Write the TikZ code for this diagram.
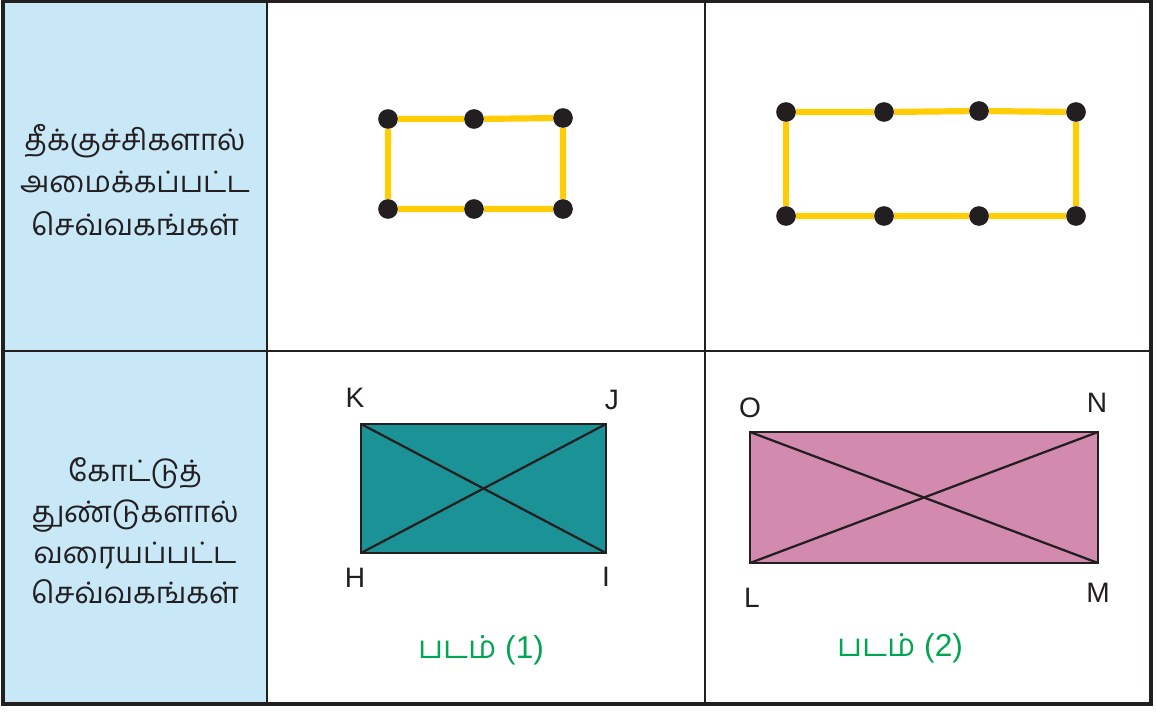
\documentclass[tikz,border=0pt]{standalone}
\usepackage{fontspec}
\setmainfont{Liberation Sans}
\newfontfamily\tamilfont[Script=Tamil]{Hind Madurai}
\usetikzlibrary{positioning}
\definecolor{inkDark}{HTML}{231F20}
\definecolor{cellBlue}{HTML}{C8E8F8}
\definecolor{stickYellow}{HTML}{FFCC05}
\definecolor{tealFill}{HTML}{1B9396}
\definecolor{pinkFill}{HTML}{D28BAE}
\definecolor{captionGreen}{HTML}{00A651}
\tikzset{
    headcell/.style={align=center,text=inkDark,
        font=\tamilfont\fontsize{21}{30}\selectfont},
    stick/.style={draw=stickYellow,line width=4.4pt},
    dot/.style={circle,fill=inkDark,inner sep=0pt,minimum size=14pt},
    gridline/.style={draw=inkDark,line width=1.6pt},
    vertex/.style={text=inkDark,font=\fontsize{20}{20}\selectfont},
    caption/.style={text=captionGreen,font=\fontsize{22.5}{22.5}\selectfont},
    diag/.style={draw=inkDark,line width=1.6pt}
}

\begin{document}
\begin{tikzpicture}[x=0.025cm,y=-0.025cm]
    \useasboundingbox (0,0) rectangle (1156,711);
    % table
    \fill[cellBlue] (3,1) rectangle (267,704);
    \draw[gridline] (3,351) -- (1151,351);
    \draw[gridline] (267,1) -- (267,704);
    \draw[gridline] (705,1) -- (705,704);
    \draw[gridline,line width=2.2pt] (3,1) rectangle (1151,704);
    \node[headcell] (rowsticks) at (135,180) {தீக்குச்சிகளால்\\அமைக்கப்பட்ட\\செவ்வகங்கள்};
    \node[headcell,font=\tamilfont\fontsize{21}{29}\selectfont] (rowlines) at (135,531) {கோட்டுத்\\துண்டுகளால்\\வரையப்பட்ட\\செவ்வகங்கள்};
    % matchsticks, small
    \node[dot] (sa1) at (388,119) {};
    \node[dot] (sa2) at (474,119) {};
    \node[dot] (sa3) at (563,118) {};
    \node[dot] (sa4) at (563,209) {};
    \node[dot] (sa5) at (474,209) {};
    \node[dot] (sa6) at (388,209) {};
    \draw[stick] (sa1) -- (sa2) -- (sa3) -- (sa4) -- (sa5) -- (sa6) -- (sa1);
    % matchsticks, long
    \node[dot] (sb1) at (786,112) {};
    \node[dot] (sb2) at (884,112) {};
    \node[dot] (sb3) at (979,111) {};
    \node[dot] (sb4) at (1076,112) {};
    \node[dot] (sb5) at (1076,216) {};
    \node[dot] (sb6) at (979,216) {};
    \node[dot] (sb7) at (884,216) {};
    \node[dot] (sb8) at (786,216) {};
    \draw[stick] (sb1) -- (sb2) -- (sb3) -- (sb4) -- (sb5) -- (sb6) -- (sb7) -- (sb8) -- (sb1);
    % figure 1
    \coordinate (K) at (361,424);
    \coordinate (J) at (606,424);
    \coordinate (I) at (606,553);
    \coordinate (H) at (361,553);
    \draw[draw=inkDark,line width=1.2pt,fill=tealFill] (K) -- (J) -- (I) -- (H) -- cycle;
    \draw[diag] (K) -- (I);
    \draw[diag] (J) -- (H);
    \node[vertex] (labK) at (355,398) {K};
    \node[vertex] (labJ) at (612,400) {J};
    \node[vertex] (labI) at (606,577) {I};
    \node[vertex] (labH) at (355,578) {H};
    \node[caption] (fig1) at (481,650) {{\tamilfont படம்} (1)};
    % figure 2
    \coordinate (O) at (750,432);
    \coordinate (N) at (1098,432);
    \coordinate (M) at (1098,563);
    \coordinate (L) at (750,563);
    \draw[draw=inkDark,line width=1.2pt,fill=pinkFill] (O) -- (N) -- (M) -- (L) -- cycle;
    \draw[diag] (O) -- (M);
    \draw[diag] (N) -- (L);
    \node[vertex] (labO) at (750,408) {O};
    \node[vertex] (labN) at (1097,403) {N};
    \node[vertex] (labM) at (1098,593) {M};
    \node[vertex] (labL) at (752,598) {L};
    \node[caption] (fig2) at (900,648) {{\tamilfont படம்} (2)};
\end{tikzpicture}
\end{document}
